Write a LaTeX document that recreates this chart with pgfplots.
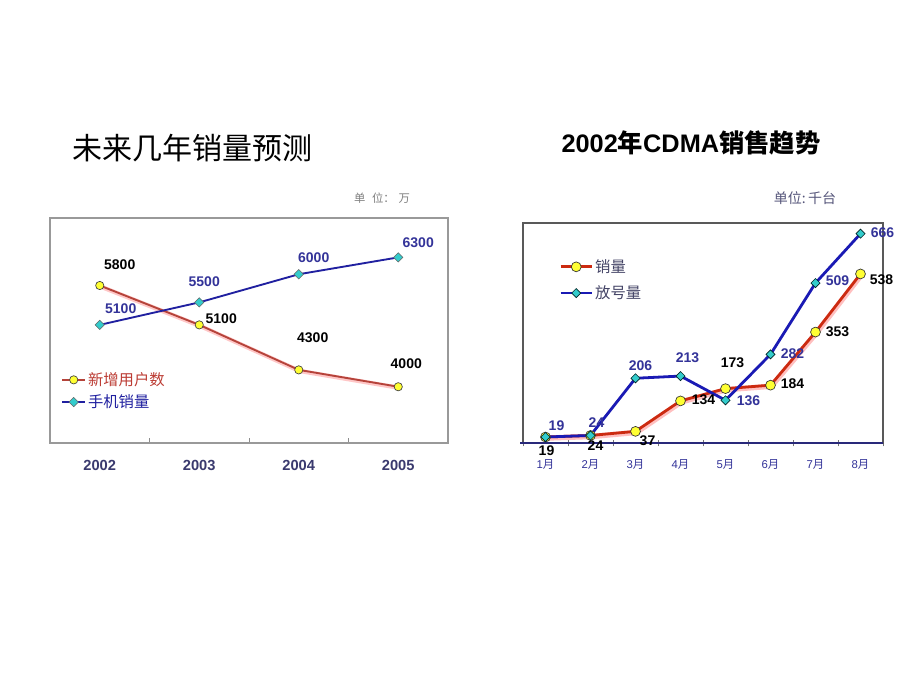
\documentclass[border=0pt]{standalone}
\usepackage{pgfplots}
\pgfplotsset{compat=1.18}
\usepackage{pgfplotstable}
\usepackage{fontspec}
\setmainfont{Liberation Sans}
\newfontfamily\cjk{Noto Sans CJK SC}
\definecolor{lred}{HTML}{B5433A}
\definecolor{lblue}{HTML}{2020A0}
\definecolor{yel}{HTML}{FFFF33}
\definecolor{cyanm}{HTML}{33CCCC}
\definecolor{navylab}{HTML}{333399}
\definecolor{yearcol}{HTML}{3A3A6E}
\definecolor{rred}{HTML}{CC2A10}
\definecolor{rblue}{HTML}{1A1AB4}
\definecolor{unitcol}{HTML}{55557A}
\definecolor{legcol}{HTML}{444466}

% lab = text:dx(px):up(px)
\pgfplotstableread{
x y lab
1 5800 5800:20:21
2 5100 5100:22:6
3 4300 4300:14:32
4 4000 4000:8:23
}\leftred
\pgfplotstableread{
x y lab
1 5100 5100:21:16
2 5500 5500:5:21
3 6000 6000:15:17
4 6300 6300:20:15
}\leftblue
\pgfplotstableread{
x y lab
1 19 19:1:-14
2 24 24:5:-10
3 37 37:12:-9
4 134 134:23:1
5 173 173:7:26
6 184 184:22:1
7 353 353:22:0
8 538 538:21:-6
}\rightred
\pgfplotstableread{
x y lab
1 19 19:11:11
2 24 24:6:13
3 206 206:5:13
4 213 213:7:18
5 136 136:23:0
6 282 282:22:1
7 509 509:22:2
8 666 666:22:1
}\rightblue

\def\parselbl#1:#2:#3\relax{\gdef\lbltext{#1}\gdef\lbldx{#2}\gdef\lblup{#3}}
\pgfplotsset{lbl/.style={forget plot, draw=none, no marks, point meta=explicit symbolic,
  nodes near coords={\lbltext},
  every node near coord/.append style={/utils/exec={\expandafter\parselbl\pgfplotspointmeta\relax},
     anchor=center, xshift=\lbldx*0.75pt, yshift=\lblup*0.75pt, inner sep=0pt}}}

\begin{document}
\begin{tikzpicture}
\useasboundingbox (0,0) rectangle (690pt,517.5pt);
\fill[white] (0,0) rectangle (690pt,517.5pt);

% titles
\node[font=\cjk\fontsize{22.5}{26}\selectfont] at (144.4pt,406.5pt) {未来几年销量预测};
\node[font=\bfseries\fontsize{19}{22}\selectfont] at (518.25pt,410.25pt) {2002{\cjk 年}CDMA{\cjk 销售趋势}};
\node[font=\cjk\fontsize{8.5}{10}\selectfont, text=black!50] at (286.5pt,369pt) {单\hspace{5pt}位：\hspace{3pt}万};
\node[font=\cjk\fontsize{10.5}{12}\selectfont, text=unitcol] at (603.75pt,369pt) {单位:\,千台};

% left chart
\begin{axis}[
  at={(37.5pt,185.25pt)}, anchor=south west,
  scale only axis, width=298.5pt, height=168.75pt,
  xmin=0.5, xmax=4.5, ymin=3000, ymax=7000,
  clip=false,
  axis line style={draw=black!40, line width=0.8pt},
  xtick={1,2,3,4}, xticklabels={2002,2003,2004,2005},
  minor xtick={1.5,2.5,3.5},
  major tick length=0pt, minor tick length=4pt,
  minor tick style={draw=black!45, line width=0.6pt},
  xtick pos=bottom, ytick=\empty,
  xticklabel style={font=\bfseries\fontsize{11}{13}\selectfont, text=yearcol, yshift=-9.5pt},
  legend style={at={(0.028,0.324)}, anchor=north west, draw=none, fill=none,
    font=\cjk\fontsize{11.5}{13}\selectfont, row sep=2.5pt, inner sep=0pt,
    nodes={inner sep=1.5pt, anchor=west}},
  legend cell align=left,
]
\addplot[forget plot, draw=red!22, line width=3.2pt, no marks, transform canvas={xshift=0.6pt,yshift=-0.8pt}] table[x=x,y=y] {\leftred};
\addplot[draw=lred, line width=1.4pt, mark=*, mark size=3.1pt,
  mark options={fill=yel, draw=black!75, line width=0.5pt}]
  table[x=x,y=y] {\leftred};
\addlegendentry{\textcolor{lred!90!red}{新增用户数}}
\addplot[draw=lblue, line width=1.4pt, mark=square*, mark size=2.5pt,
  mark options={fill=cyanm, draw=black!60, line width=0.4pt, rotate=45}]
  table[x=x,y=y] {\leftblue};
\addlegendentry{\textcolor{lblue}{手机销量}}
\addplot[lbl, every node near coord/.append style={font=\bfseries\fontsize{10.5}{12}\selectfont, text=black}]
  table[x=x,y=y,meta=lab] {\leftred};
\addplot[lbl, every node near coord/.append style={font=\bfseries\fontsize{10.5}{12}\selectfont, text=navylab}]
  table[x=x,y=y,meta=lab] {\leftblue};
\end{axis}

% right chart
\begin{axis}[
  at={(392.25pt,185.25pt)}, anchor=south west,
  scale only axis, width=270pt, height=165pt,
  xmin=0.5, xmax=8.5, ymin=0, ymax=700,
  clip=false,
  axis line style={draw=black!65, line width=0.8pt},
  xtick={1,...,8},
  xticklabels={1{\cjk 月},2{\cjk 月},3{\cjk 月},4{\cjk 月},5{\cjk 月},6{\cjk 月},7{\cjk 月},8{\cjk 月}},
  minor xtick={0.5,1.5,...,8.5},
  major tick length=0pt, minor tick length=5pt,
  minor tick style={draw=black!55, line width=0.6pt},
  tick align=center,
  xtick pos=bottom, ytick=\empty,
  xticklabel style={font=\fontsize{8.5}{10}\selectfont, text=navylab, yshift=-9pt},
  legend style={at={(0.1,0.845)}, anchor=north west, draw=none, fill=none,
    font=\cjk\fontsize{11.5}{13}\selectfont, row sep=5.5pt, inner sep=0pt,
    nodes={inner sep=1.5pt, anchor=west}},
  legend cell align=left,
  legend image code/.code={\draw[mark repeat=2,mark phase=2] plot coordinates {(0cm,0cm) (0.41cm,0cm) (0.82cm,0cm)};},
]
\draw[draw=navylab!80!black, line width=1.1pt] (rel axis cs:-0.008,0) -- (rel axis cs:1,0);
\addplot[forget plot, draw=red!25, line width=4pt, no marks, transform canvas={xshift=0.6pt,yshift=-0.8pt}] table[x=x,y=y] {\rightred};
\addplot[draw=rred, line width=2.1pt, mark=*, mark size=3.7pt,
  mark options={fill=yel, draw=black!80, line width=0.5pt}]
  table[x=x,y=y] {\rightred};
\addlegendentry{\textcolor{legcol}{销量}}
\addplot[draw=rblue, line width=2.1pt, mark=square*, mark size=2.4pt,
  mark options={fill=cyanm, draw=black!70!teal, line width=0.5pt, rotate=45}]
  table[x=x,y=y] {\rightblue};
\addlegendentry{\textcolor{legcol}{放号量}}
\addplot[lbl, every node near coord/.append style={font=\bfseries\fontsize{10.5}{12}\selectfont, text=black}]
  table[x=x,y=y,meta=lab] {\rightred};
\addplot[lbl, every node near coord/.append style={font=\bfseries\fontsize{10.5}{12}\selectfont, text=navylab}]
  table[x=x,y=y,meta=lab] {\rightblue};
\end{axis}
\end{tikzpicture}
\end{document}
